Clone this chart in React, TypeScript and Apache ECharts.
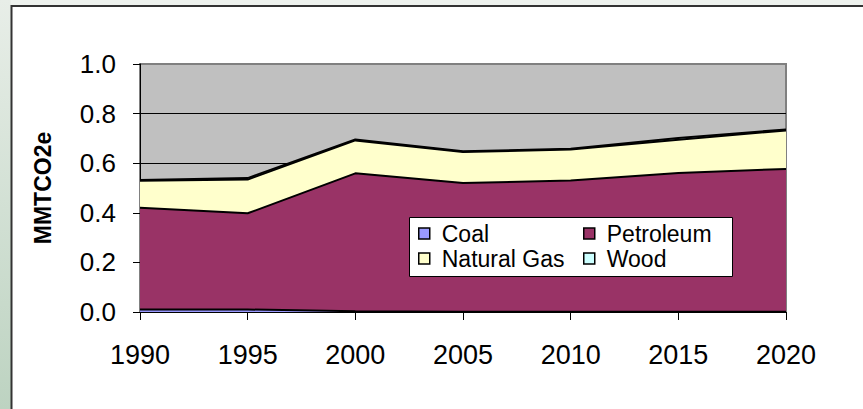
import React, { useEffect, useRef } from "react";
import * as echarts from "echarts";

const years = ["1990", "1995", "2000", "2005", "2010", "2015", "2020"];
const coal = [0.01, 0.01, 0.003, 0.001, 0.001, 0.001, 0.001];
const petroleum = [0.41, 0.388, 0.556, 0.519, 0.529, 0.559, 0.576];
const naturalGas = [0.109, 0.136, 0.133, 0.125, 0.125, 0.135, 0.155];
const wood = [0.003, 0.006, 0.004, 0.003, 0.003, 0.007, 0.004];
const seriesNames = ["Coal", "Petroleum", "Natural Gas", "Wood"];
const seriesColors = ["#9999ff", "#993366", "#ffffcc", "#ccffff"];

const FONT = "Liberation Sans, Arial, sans-serif";

export default function App() {
  const ref = useRef<HTMLDivElement>(null);
  useEffect(() => {
    const chart = echarts.init(ref.current!, null, { renderer: "svg" });
    const values = [coal, petroleum, naturalGas, wood];
    const legendCommon = {
      orient: "vertical",
      top: 222,
      icon: "rect",
      itemWidth: 11,
      itemHeight: 11,
      itemGap: 2,
      padding: 0,
      z: 10,
      itemStyle: { borderColor: "#000", borderWidth: 1.5 },
      textStyle: { fontSize: 23, color: "#000", fontFamily: FONT, padding: [0, 0, 0, 7] },
    };
    chart.setOption({
      animation: false,
      backgroundColor: "#ffffff",
      textStyle: { fontFamily: FONT },
      graphic: [
        { type: "rect", shape: { x: 0, y: 0, width: 863, height: 5 }, style: { fill: "#eef2ee" }, silent: true },
        {
          type: "rect",
          shape: { x: 0, y: 0, width: 11, height: 409 },
          style: {
            fill: new echarts.graphic.LinearGradient(0, 0, 0, 1, [
              { offset: 0, color: "#e8eee8" },
              { offset: 1, color: "#bdd3c1" },
            ]),
          },
          silent: true,
        },
        { type: "line", shape: { x1: 11, y1: 6, x2: 863, y2: 6 }, style: { stroke: "#333", lineWidth: 2 }, silent: true },
        { type: "line", shape: { x1: 11.5, y1: 5, x2: 11.5, y2: 409 }, style: { stroke: "#333", lineWidth: 2 }, silent: true },
        {
          type: "rect",
          z: 5,
          shape: { x: 409.5, y: 217.5, width: 323, height: 59 },
          style: { fill: "#fff", stroke: "#000", lineWidth: 1 },
          silent: true,
        },
      ],
      legend: [
        { ...legendCommon, left: 418, data: ["Coal", "Natural Gas"] },
        { ...legendCommon, left: 583, data: ["Petroleum", "Wood"] },
      ],
      grid: {
        left: 140,
        right: 77,
        top: 64,
        bottom: 97,
        show: true,
        backgroundColor: "#c0c0c0",
        borderColor: "#808080",
        borderWidth: 2,
      },
      xAxis: {
        type: "category",
        data: years,
        boundaryGap: false,
        axisLine: { lineStyle: { color: "#000", width: 1 } },
        axisTick: { show: true, length: 8, alignWithLabel: true, interval: 0, lineStyle: { color: "#000" } },
        axisLabel: { fontSize: 27, color: "#000", margin: 29, fontFamily: FONT },
        splitLine: { show: false },
      },
      yAxis: {
        type: "value",
        min: 0,
        max: 1,
        interval: 0.2,
        name: "MMTCO2e",
        nameLocation: "middle",
        nameGap: 86,
        nameTextStyle: { fontSize: 23, fontWeight: "bold", color: "#000", fontFamily: FONT },
        axisLine: { show: true, lineStyle: { color: "#000", width: 1 } },
        axisTick: { show: true, length: 7, lineStyle: { color: "#000" } },
        axisLabel: {
          fontSize: 26,
          color: "#000",
          margin: 24,
          fontFamily: FONT,
          formatter: (v: number) => v.toFixed(1),
        },
        splitLine: { show: true, showMaxLine: false, lineStyle: { color: "#000", width: 1 } },
      },
      series: seriesNames.map((name, i) => ({
        name,
        type: "line",
        stack: "total",
        data: values[i],
        symbol: "none",
        showSymbol: false,
        itemStyle: { color: seriesColors[i] },
        lineStyle: { color: "#000", width: 2 },
        areaStyle: { color: seriesColors[i], opacity: 1 },
      })),
    });
    return () => chart.dispose();
  }, []);
  return <div ref={ref} style={{ position: "fixed", left: 0, top: 0, width: 863, height: 409 }} />;
}
